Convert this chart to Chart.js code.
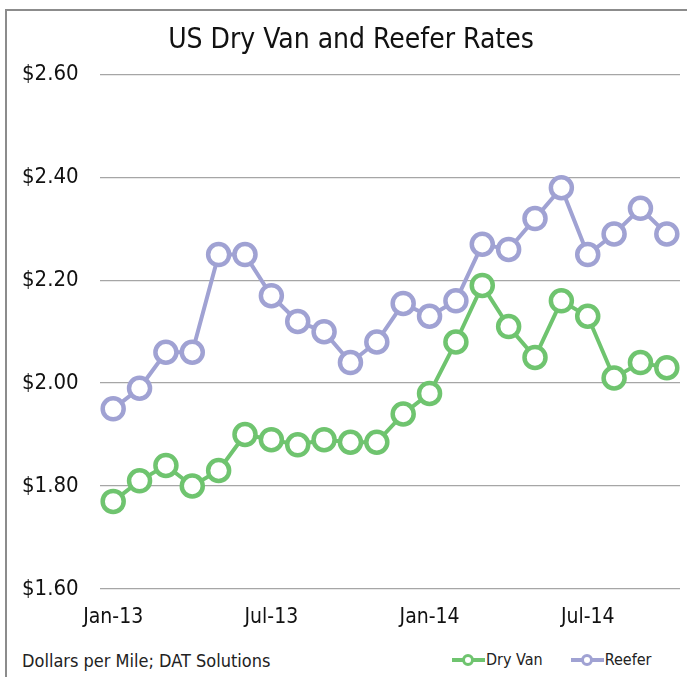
<!DOCTYPE html>
<html>
<head>
<meta charset="utf-8">
<script src="https://cdn.jsdelivr.net/npm/chart.js@4"></script>
<style>
 html, body { margin: 0; padding: 0; overflow: hidden; background: #fff; font-family: "DejaVu Sans Condensed", "DejaVu Sans", sans-serif; }
 #frame { position: absolute; left: 5px; top: 9px; width: 680px; height: 666px; border-left: 2px solid #8c8c8c; border-top: 2px solid #8c8c8c; }
 #wrap { position: absolute; left: 22px; top: 11px; width: 665px; height: 627px; }
 #note { position: absolute; left: 22px; top: 650px; font-size: 18px; line-height: 21px; color: #222; }
 #legend { position: absolute; left: 452px; top: 650px; font-size: 16px; line-height: 20px; color: #222; display: flex; align-items: center; }
 .item { display: flex; align-items: center; margin-right: 28px; }
 .mk { position: relative; width: 33px; height: 16px; margin-right: 1px; }
 .mk .ln { position: absolute; left: 0; right: 0; top: 6px; height: 4px; }
 .mk .dot { position: absolute; left: 10px; top: 2px; width: 6px; height: 6px; border-radius: 50%; background: #fff; border: 3px solid; }
</style>
</head>
<body>
<div id="frame"></div>
<div id="wrap"><canvas id="rateChart"></canvas></div>
<div id="note">Dollars per Mile; DAT Solutions</div>
<div id="legend"></div>
<script>
const months = ["Jan-13","Feb-13","Mar-13","Apr-13","May-13","Jun-13","Jul-13","Aug-13","Sep-13","Oct-13","Nov-13","Dec-13",
 "Jan-14","Feb-14","Mar-14","Apr-14","May-14","Jun-14","Jul-14","Aug-14","Sep-14","Oct-14"]
const dryVan = [1.77,1.81,1.84,1.80,1.83,1.90,1.89,1.88,1.89,1.885,1.885,1.94,
 1.98,2.08,2.19,2.11,2.05,2.16,2.13,2.01,2.04,2.03]
const reefer = [1.95,1.99,2.06,2.06,2.25,2.25,2.17,2.12,2.10,2.04,2.08,2.155,
 2.13,2.16,2.27,2.26,2.32,2.38,2.25,2.29,2.34,2.29]
const shownTicks = ["Jan-13","Jul-13","Jan-14","Jul-14"]

const green = "#6fc46f"
const lav = "#a0a2d3"

const font = "'DejaVu Sans Condensed', 'DejaVu Sans', sans-serif"

const series = [
 { label: "Dry Van", data: dryVan, color: green },
 { label: "Reefer", data: reefer, color: lav }
]

const chart = new Chart(document.getElementById("rateChart"), {
 type: "line",
 data: {
  labels: months,
  datasets: series.map(s => ({
   label: s.label,
   data: s.data,
   borderColor: s.color,
   borderWidth: 4,
   pointRadius: 10.5,
   pointBorderWidth: 4.5,
   pointBackgroundColor: "#fff",
   pointBorderColor: s.color,
   pointHoverRadius: 10.5,
   tension: 0,
   clip: false
  }))
 },
 options: {
  responsive: true,
  maintainAspectRatio: false,
  animation: false,
  events: [],
  layout: { autoPadding: false, padding: { right: 7, bottom: 0 } },
  plugins: {
   legend: { display: false },
   tooltip: { enabled: false },
   title: {
    display: true,
    text: "US Dry Van and Reefer Rates",
    color: "#111",
    font: { family: font, size: 28, weight: "normal" },
    padding: { top: 13, bottom: 17 }
   }
  },
  scales: {
   x: {
    offset: true,
    grid: { display: false },
    border: { display: false },
    ticks: {
     autoSkip: false,
     maxRotation: 0,
     padding: 8,
     color: "#111",
     font: { family: font, size: 21 },
     callback: function (v) {
      const l = this.getLabelForValue(v)
      return shownTicks.includes(l) ? l : ""
     }
    }
   },
   y: {
    min: 1.6,
    max: 2.6,
    afterFit: s => { s.width = 78 },
    grid: { color: "#a6a6a6", lineWidth: 1.3, drawTicks: false },
    border: { display: false },
    ticks: {
     stepSize: 0.2,
     crossAlign: "far",
     color: "#111",
     font: { family: font, size: 22 },
     callback: v => "$" + v.toFixed(2)
    }
   }
  }
 }
})

const legend = document.getElementById("legend")
series.forEach(s => {
 const item = document.createElement("div")
 item.className = "item"
 item.innerHTML = '<div class="mk"><div class="ln" style="background:' + s.color + '"></div><div class="dot" style="border-color:' + s.color + '"></div></div><span>' + s.label + '</span>'
 legend.appendChild(item)
})
</script>
</body>
</html>
